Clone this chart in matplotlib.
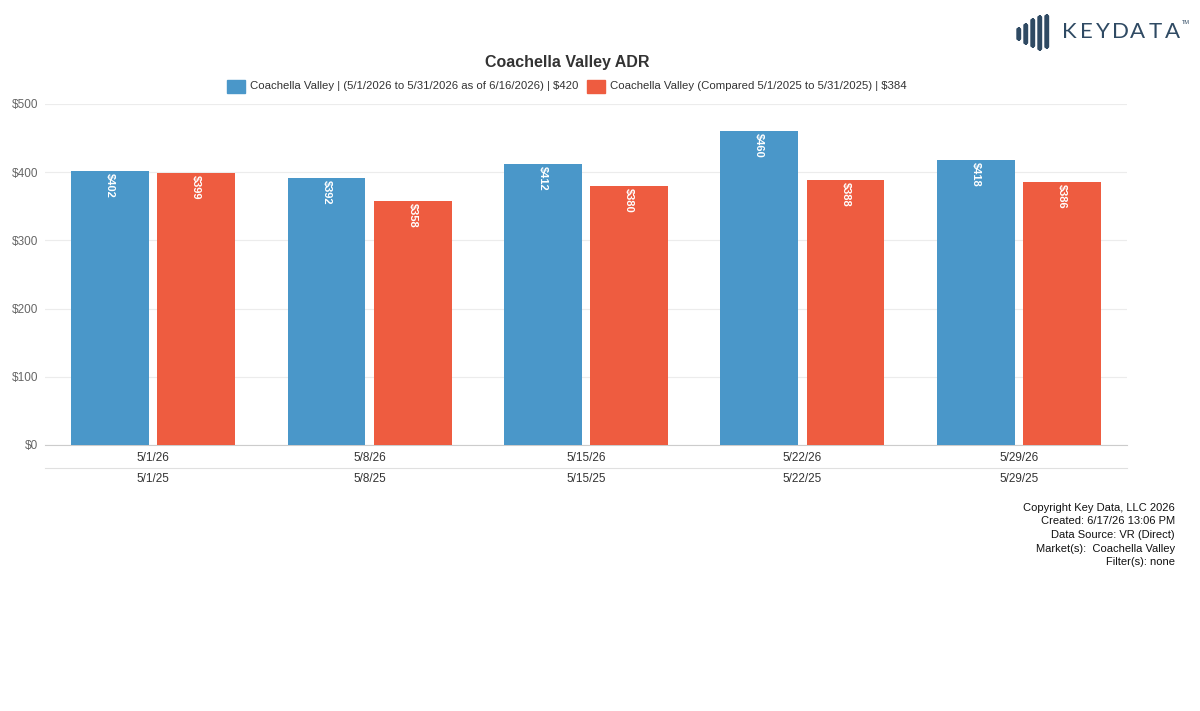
import matplotlib.pyplot as plt
import numpy as np
from matplotlib.patches import FancyBboxPatch
from matplotlib.lines import Line2D

weeks_2026 = ["5/1/26", "5/8/26", "5/15/26", "5/22/26", "5/29/26"]
weeks_2025 = ["5/1/25", "5/8/25", "5/15/25", "5/22/25", "5/29/25"]
adr_2026 = [402, 392, 412, 460, 418]
adr_2025 = [399, 358, 380, 388, 386]
label_2026 = "Coachella Valley | (5/1/2026 to 5/31/2026 as of 6/16/2026) | $420"
label_2025 = "Coachella Valley (Compared 5/1/2025 to 5/31/2025) | $384"
footer_lines = [
    "Copyright Key Data, LLC 2026",
    "Created: 6/17/26 13:06 PM",
    "Data Source: VR (Direct)",
    "Market(s):  Coachella Valley",
    "Filter(s): none",
]

BLUE = "#4a97c9"
RED = "#ee5c40"

plt.rcParams["font.family"] = ["Liberation Sans", "DejaVu Sans"]

fig = plt.figure(figsize=(12, 7.11), dpi=100)
ax = fig.add_axes([45 / 1200, 1 - 445 / 711, 1082 / 1200, 341 / 711])

x = np.arange(len(weeks_2026))
w = 0.36
off = 0.199
b1 = ax.bar(x - off, adr_2026, w, color=BLUE, zorder=3)
b2 = ax.bar(x + off, adr_2025, w, color=RED, zorder=3)

for bars, vals in ((b1, adr_2026), (b2, adr_2025)):
    for rect, v in zip(bars, vals):
        ax.text(rect.get_x() + rect.get_width() / 2, v - 3, f"${v}",
                rotation=-90, ha="center", va="top", color="white",
                fontsize=8, fontweight="bold", zorder=4)

ax.set_xlim(-0.5, len(x) - 0.5)
ax.set_ylim(0, 500)
ax.set_yticks([0, 100, 200, 300, 400, 500])
ax.set_yticklabels([f"${t}" for t in range(0, 501, 100)])
ax.set_xticks(x)
ax.set_xticklabels(weeks_2026)
ax.tick_params(axis="x", length=0, pad=5, labelsize=8.5, labelcolor="#333333")
ax.tick_params(axis="y", length=0, pad=5, labelsize=8.5, labelcolor="#666666")
ax.grid(axis="y", color="#ececec", linewidth=0.8, zorder=0)
for s in ("top", "right", "left"):
    ax.spines[s].set_visible(False)
ax.spines["bottom"].set_color("#cccccc")

# second category row
for xi, lab in zip(x, weeks_2025):
    ax.annotate(lab, xy=(xi, 0), xycoords="data", xytext=(0, -24.5),
                textcoords="offset points", ha="center", va="center",
                fontsize=8.5, color="#333333", annotation_clip=False)
fig.add_artist(Line2D([45 / 1200, 1127 / 1200], [1 - 468 / 711] * 2,
                      color="#e0e0e0", linewidth=0.8))

fig.text(567 / 1200, 1 - 62 / 711, "Coachella Valley ADR", ha="center",
         va="center", fontsize=11.5, fontweight="bold", color="#333333")

# legend
ly = 1 - 86 / 711
fig.add_artist(plt.Rectangle((227 / 1200, ly - 6.5 / 711), 18 / 1200, 13 / 711,
                             color=BLUE, transform=fig.transFigure))
fig.text(250 / 1200, ly, label_2026, ha="left", va="center", fontsize=8.2, color="#333333")
fig.add_artist(plt.Rectangle((587 / 1200, ly - 6.5 / 711), 18 / 1200, 13 / 711,
                             color=RED, transform=fig.transFigure))
fig.text(610 / 1200, ly, label_2025, ha="left", va="center", fontsize=8.2, color="#333333")

# footer
for i, line in enumerate(footer_lines):
    fig.text(1175 / 1200, 1 - (508 + i * 13.5) / 711, line, ha="right",
             va="center", fontsize=8, color="#111111")

# logo
LOGO = "#2f4a63"
logo_bars = [(1017, 28, 12), (1024, 24, 20), (1031, 19, 28), (1038, 16, 34), (1045, 15, 33)]
for bx, by, bh in logo_bars:
    fig.add_artist(FancyBboxPatch((bx / 1200, 1 - (by + bh) / 711), 3.5 / 1200, bh / 711,
                                  boxstyle="round,pad=0,rounding_size=0.002",
                                  color=LOGO, transform=fig.transFigure))
for i, ch in enumerate("KEYDATA"):
    fig.text((1069 + i * 17.2) / 1200, 1 - 32 / 711, ch, ha="center", va="center",
             fontsize=16, color=LOGO, family=["Lato", "DejaVu Sans"])
fig.text(1182 / 1200, 1 - 22 / 711, "TM", ha="left", va="center",
         fontsize=4, color=LOGO)

fig.savefig("out.png", dpi=100, facecolor="white")
